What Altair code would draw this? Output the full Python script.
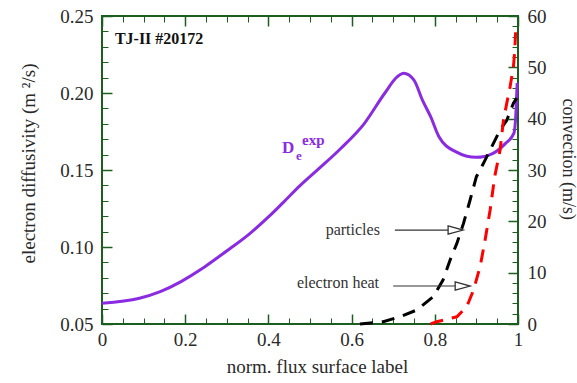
import altair as alt
import pandas as pd

# Electron diffusivity profile D_e^exp (m^2/s) vs normalised flux surface label
rho_D = [0.0, 0.09, 0.14, 0.19, 0.24, 0.28, 0.308, 0.356, 0.404, 0.436, 0.476,
         0.524, 0.572, 0.63, 0.68, 0.71, 0.725, 0.75, 0.77, 0.79, 0.81, 0.85,
         0.90, 0.94, 0.97, 0.99, 0.995, 0.998]
D_exp = [0.0635, 0.0667, 0.071, 0.0775, 0.0858, 0.0935, 0.0990, 0.1089, 0.1205,
         0.1290, 0.1398, 0.1515, 0.1635, 0.180, 0.200, 0.2106, 0.2128, 0.2084,
         0.1955, 0.1846, 0.1716, 0.1619, 0.1582, 0.1608, 0.1673, 0.1738,
         0.1868, 0.2065]

# Convection velocities (m/s)
rho_part = [0.62, 0.676, 0.716, 0.756, 0.796, 0.82, 0.837, 0.853, 0.869, 0.885,
            0.90, 0.917, 0.933, 0.949, 0.957, 0.973, 0.989, 0.997]
V_part = [0.0, 0.45, 1.4, 2.7, 5.3, 8.6, 12.5, 15.7, 19.6, 24.2,
          28.7, 31.3, 33.9, 36.5, 37.8, 39.7, 43.0, 44.0]

rho_heat = [0.79, 0.805, 0.853, 0.877, 0.893, 0.909, 0.921, 0.933, 0.944,
            0.957, 0.965, 0.973, 0.981, 0.989, 0.992, 0.995]
V_heat = [0.0, 0.45, 1.4, 3.4, 6.6, 11.2, 16.4, 22.2, 28.7,
          33.9, 39.7, 43.0, 46.2, 50.1, 53.0, 58.0]

# Axis tick positions
x_major = [0, 0.2, 0.4, 0.6, 0.8, 1.0]
x_minor = [0.05, 0.1, 0.15, 0.25, 0.3, 0.35, 0.45, 0.5, 0.55, 0.65, 0.7, 0.75,
           0.85, 0.9, 0.95]
yl_major = [0.05, 0.10, 0.15, 0.20, 0.25]
yl_minor = [0.06, 0.07, 0.08, 0.09, 0.11, 0.12, 0.13, 0.14, 0.16, 0.17, 0.18,
            0.19, 0.21, 0.22, 0.23, 0.24]
yr_major = [0, 10, 20, 30, 40, 50, 60]
yr_minor = [2, 4, 6, 8, 12, 14, 16, 18, 22, 24, 26, 28, 32, 34, 36, 38, 42, 44,
            46, 48, 52, 54, 56, 58]

W, H = 416, 308
FRAME = "#1B5E20"
PURPLE = "#8A2BE2"
SERIF = "Liberation Serif"
TXT = "#2a2a2a"

XS = alt.Scale(domain=[0, 1], nice=False, zero=False)
YL = alt.Scale(domain=[0.05, 0.25], nice=False, zero=False)
YR = alt.Scale(domain=[0, 60], nice=False, zero=False)

df_D = pd.DataFrame({"rho": rho_D, "D": D_exp})
df_V = pd.concat([
    pd.DataFrame({"rho": rho_part, "V": V_part, "kind": "particles"}),
    pd.DataFrame({"rho": rho_heat, "V": V_heat, "kind": "electron heat"}),
])
one_row = pd.DataFrame({"k": [0]})

label_style = dict(labelFont=SERIF, labelFontSize=19, labelColor=TXT,
                   labelFlush=False, labelOverlap=False, ticks=False,
                   domain=False, grid=False, titleFont=SERIF, titleColor=TXT,
                   titleFontWeight="normal")

diff_line = alt.Chart(df_D).mark_line(
    color=PURPLE, strokeWidth=3, interpolate="monotone"
).encode(
    x=alt.X("rho:Q", scale=XS, axis=alt.Axis(
        orient="bottom", values=x_major, format="~g", labelPadding=6,
        title="norm. flux surface label", titleFontSize=19, titleX=215,
        titleY=48, titleAlign="center", titleBaseline="alphabetic",
        **label_style)),
    y=alt.Y("D:Q", scale=YL, axis=alt.Axis(
        orient="left", values=yl_major, format=".2f", labelPadding=9,
        title="electron diffusivity (m ²/s)", titleFontSize=19,
        titleAngle=270, titleAlign="left", titleBaseline="middle",
        titleX=-74, titleY=247, **label_style)),
)

conv_lines = alt.Chart(df_V).mark_line(strokeWidth=3, strokeDash=[13, 9]).encode(
    x=alt.X("rho:Q", scale=XS, axis=None),
    y=alt.Y("V:Q", scale=YR, axis=alt.Axis(
        orient="right", values=yr_major, format="d", labelPadding=9,
        title="convection (m/s)", titleFontSize=18, titleAngle=90,
        titleAlign="left", titleBaseline="middle", titleX=49, titleY=82,
        **label_style)),
    color=alt.Color("kind:N", scale=alt.Scale(
        domain=["particles", "electron heat"], range=["#000000", "#FF0000"]),
        legend=None),
)


def tick_axis(orient, values, size, offset, width):
    # inward-pointing ticks: axis moved onto the opposite side of the frame
    return alt.Axis(orient=orient, values=values, offset=offset, tickSize=size,
                    tickWidth=width, tickColor=FRAME, labels=False,
                    domain=False, grid=False, title=None)


def tick_layer(data, yfield, yscale, xax, yax):
    return alt.Chart(data).mark_point(opacity=0).encode(
        x=alt.X("rho:Q", scale=XS, axis=xax),
        y=alt.Y(f"{yfield}:Q", scale=yscale, axis=yax),
    )


ticks = [
    tick_layer(df_D, "D", YL, tick_axis("top", x_major, 10, -H, 1.5),
               tick_axis("right", yl_major, 10, -W, 1.5)),
    tick_layer(df_D, "D", YL, tick_axis("top", x_minor, 6, -H, 1),
               tick_axis("right", yl_minor, 6, -W, 1)),
    tick_layer(df_V, "V", YR, tick_axis("bottom", x_major, 10, -H, 1.5),
               tick_axis("left", yr_major, 10, -W, 1.5)),
    tick_layer(df_V, "V", YR, tick_axis("bottom", x_minor, 6, -H, 1),
               tick_axis("left", yr_minor, 6, -W, 1)),
]


def at(x, y, yscale):
    return dict(x=alt.XDatum(x, type="quantitative", scale=XS, axis=None),
                y=alt.YDatum(y, type="quantitative", scale=yscale, axis=None))


base = alt.Chart(one_row)

shot_label = base.mark_text(
    text="TJ-II #20172", font=SERIF, fontSize=16, fontWeight="bold",
    color="#111111", align="left", baseline="alphabetic"
).encode(**at(0.031, 0.2321, YL))

d_main = base.mark_text(text="D", font=SERIF, fontSize=17, fontWeight="bold",
                        color=PURPLE, align="left", baseline="alphabetic"
                        ).encode(**at(0.4327, 0.1608, YL))
d_sub = base.mark_text(text="e", font=SERIF, fontSize=13, fontWeight="bold",
                       color=PURPLE, align="left", baseline="alphabetic"
                       ).encode(**at(0.4663, 0.1565, YL))
d_sup = base.mark_text(text="exp", font=SERIF, fontSize=15, fontWeight="bold",
                       color=PURPLE, align="left", baseline="alphabetic"
                       ).encode(**at(0.4808, 0.1662, YL))

ARROW = "#333333"
HEAD = "M -1 -0.55 L 1 0 L -1 0.55 Z"


def arrow(label, x_text, y_text, x0, x1, x_head, y):
    txt = base.mark_text(text=label, font=SERIF, fontSize=16, color=ARROW,
                         align="right", baseline="alphabetic"
                         ).encode(**at(x_text, y_text, YR))
    shaft = base.mark_rule(color=ARROW, strokeWidth=1.2).encode(
        x=alt.XDatum(x0, type="quantitative", scale=XS, axis=None),
        x2=alt.X2Datum(x1),
        y=alt.YDatum(y, type="quantitative", scale=YR, axis=None),
    )
    head = base.mark_point(shape=HEAD, filled=True, fill="white", stroke=ARROW,
                           strokeWidth=1.3, size=225, opacity=1
                           ).encode(**at(x_head, y, YR))
    return [txt, shaft, head]


annotations = (
    [shot_label, d_main, d_sub, d_sup]
    + arrow("particles", 0.668, 17.43, 0.704, 0.832, 0.850, 18.3)
    + arrow("electron heat", 0.666, 6.95, 0.700, 0.851, 0.867, 7.4)
)

chart = alt.layer(
    diff_line, conv_lines, *ticks, *annotations
).resolve_scale(
    x="independent", y="independent", color="independent"
).resolve_axis(
    x="independent", y="independent"
).properties(
    width=W, height=H,
    autosize=alt.AutoSizeParams(type="none"),
    padding={"left": 102, "top": 16, "right": 59, "bottom": 59},
    background="white",
).configure(
    font=SERIF
).configure_axis(
    labelFont=SERIF, titleFont=SERIF
).configure_text(
    font=SERIF
).configure_view(
    stroke=FRAME, strokeWidth=2
)

chart.save("out.html", embed_options={"renderer": "svg", "actions": False})
